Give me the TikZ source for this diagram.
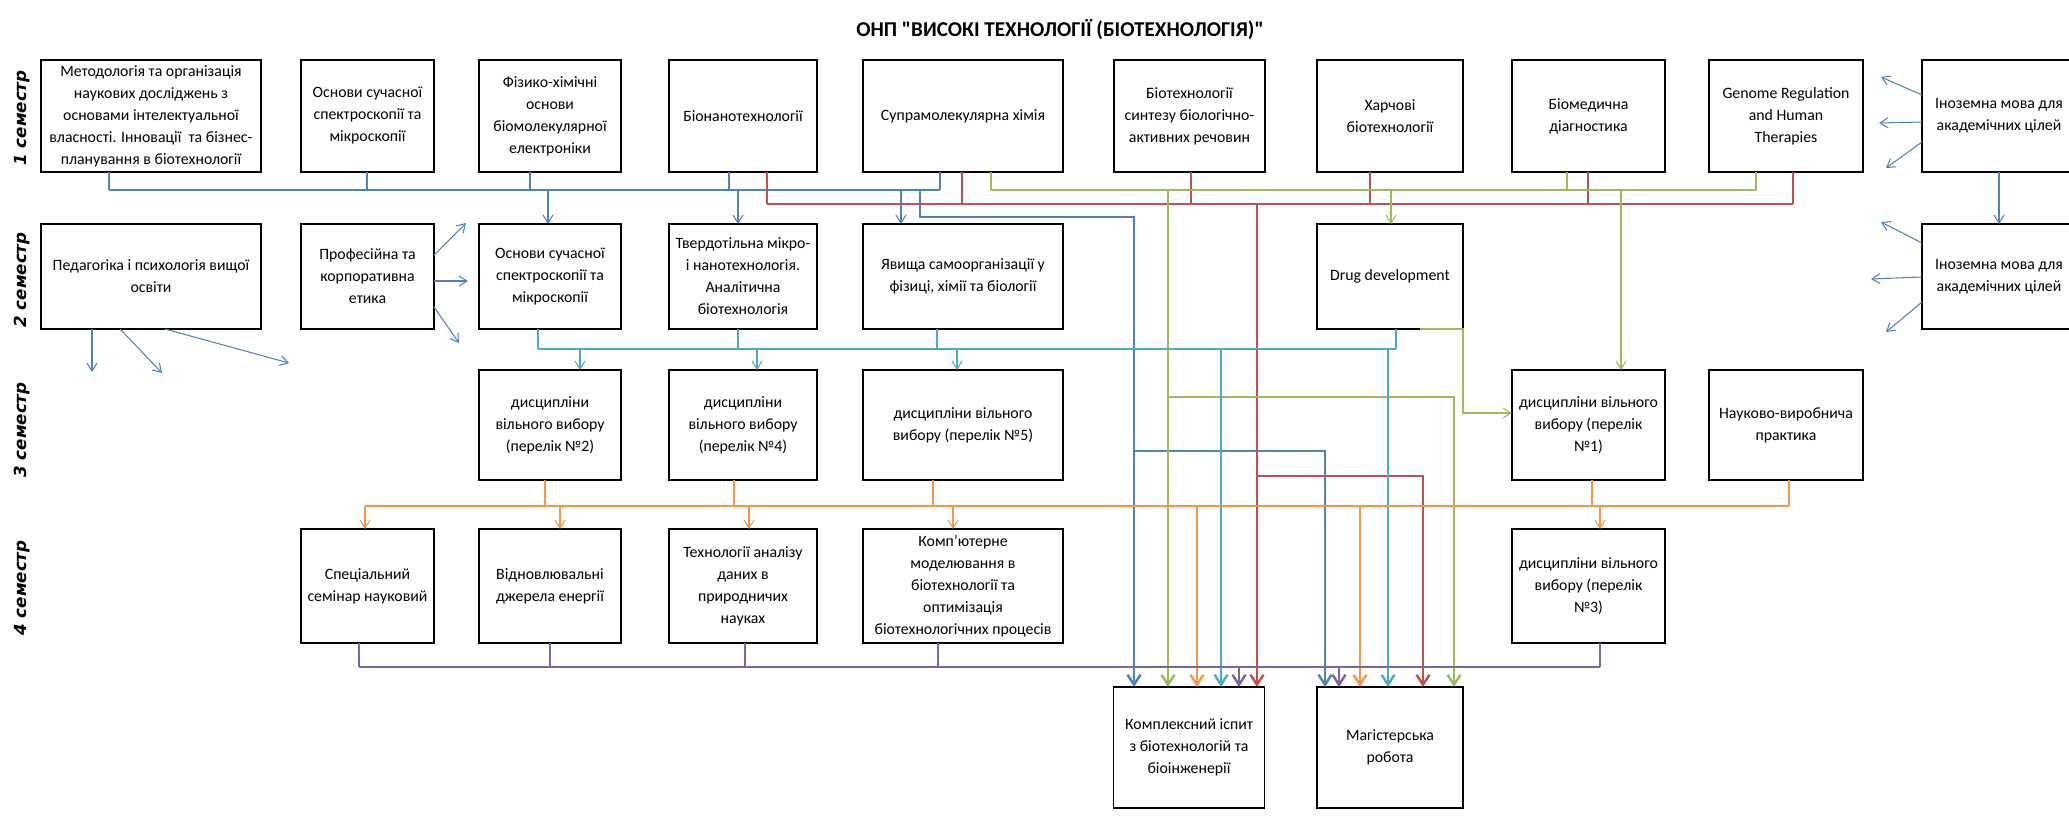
\documentclass[tikz,border=0pt]{standalone}
\usepackage{fontspec}
\setmainfont{Carlito}
\newfontfamily\titlefont{Carlito}
\newfontfamily\semfont{DejaVu Sans}
\usetikzlibrary{arrows.meta}
\definecolor{cblue}{HTML}{4F81BD}
\definecolor{cred}{HTML}{C0504D}
\definecolor{cgreen}{HTML}{9BBB59}
\definecolor{cteal}{HTML}{4BACC6}
\definecolor{corange}{HTML}{F79646}
\definecolor{cpurple}{HTML}{8064A2}
\tikzset{
  box/.style={draw, line width=1.1pt, inner sep=0, outer sep=0, align=center,
    font=\fontsize{9}{12.5}\selectfont},
  col1/.style={minimum width=44mm},
  col2/.style={minimum width=26.6mm},
  col3/.style={minimum width=28.4mm},
  col4/.style={minimum width=29.6mm},
  col5/.style={minimum width=40mm},
  col6/.style={minimum width=30.2mm},
  col7/.style={minimum width=29.2mm},
  col8/.style={minimum width=30.6mm},
  col9/.style={minimum width=30.8mm},
  row1/.style={minimum height=22.4mm},
  row2/.style={minimum height=21mm},
  row3/.style={minimum height=22mm},
  row4/.style={minimum height=22.8mm},
  row5/.style={minimum height=24.2mm},
  sem/.style={rotate=90, font=\semfont\bfseries\itshape\fontsize{9.5}{11}\selectfont},
  stub/.style={line width=0.6pt},
  link/.style={line width=0.6pt, -{Straight Barb[length=1.6mm,width=2mm]}},
  bus/.style={line width=1.4pt},
  feed/.style={line width=1.4pt, -{Straight Barb[length=2mm,width=2.6mm]}}
}
\begin{document}
\begin{tikzpicture}[x=0.2mm, y=-0.2mm]
\path[use as bounding box, clip] (0,0) rectangle (2069,816);

\node[font=\titlefont\fontsize{12}{14}\selectfont\bfseries] (t) at (1060,30) {ОНП "ВИСОКІ ТЕХНОЛОГІЇ (БІОТЕХНОЛОГІЯ)"};
\node[sem] (s1) at (22,118) {1 семестр};
\node[sem] (s2) at (22,280) {2 семестр};
\node[sem] (s3) at (22,430) {3 семестр};
\node[sem] (s4) at (22,588) {4 семестр};

% 1 семестр
\node[box,col1,row1] (a1) at (151,116) {Методологія та організація\\наукових досліджень з\\основами інтелектуальної\\власності. Інновації\ \ та бізнес-\\планування в біотехнології};
\node[box,col2,row1] (a2) at (367.5,116) {Основи сучасної\\спектроскопії та\\мікроскопії};
\node[box,col3,row1] (a3) at (550,116) {Фізико-хімічні\\основи\\біомолекулярної\\електроніки};
\node[box,col4,row1] (a4) at (743,116) {Біонанотехнології};
\node[box,col5,row1] (a5) at (963,116) {Супрамолекулярна хімія};
\node[box,col6,row1] (a6) at (1189.5,116) {Біотехнології\\синтезу біологічно-\\активних речовин};
\node[box,col7,row1] (a7) at (1390,116) {Харчові\\біотехнології};
\node[box,col8,row1] (a8) at (1588.5,116) {Біомедична\\діагностика};
\node[box,col9,row1] (a9) at (1786,116) {Genome Regulation\\and Human\\Therapies};
\node[box,col9,row1] (a10) at (1999,116) {Іноземна мова для\\академічних цілей};

% 2 семестр
\node[box,col1,row2] (b1) at (151,276.5) {Педагогіка і психологія вищої\\освіти};
\node[box,col2,row2] (b2) at (367.5,276.5) {Професійна та\\корпоративна\\етика};
\node[box,col3,row2] (b3) at (550,276.5) {Основи сучасної\\спектроскопії та\\мікроскопії};
\node[box,col4,row2] (b4) at (743,276.5) {Твердотільна мікро-\\і нанотехнологія.\\Аналітична\\біотехнологія};
\node[box,col5,row2] (b5) at (963,276.5) {Явища самоорганізації у\\фізиці, хімії та біології};
\node[box,col7,row2] (b6) at (1390,276.5) {Drug development};
\node[box,col9,row2] (b7) at (1999,276.5) {Іноземна мова для\\академічних цілей};

% 3 семестр
\node[box,col3,row3] (c1) at (550,425) {дисципліни\\вільного вибору\\(перелік №2)};
\node[box,col4,row3] (c2) at (743,425) {дисципліни\\вільного вибору\\(перелік №4)};
\node[box,col5,row3] (c3) at (963,425) {дисципліни вільного\\вибору (перелік №5)};
\node[box,col8,row3] (c4) at (1588.5,425) {дисципліни вільного\\вибору (перелік\\№1)};
\node[box,col9,row3] (c5) at (1786,425) {Науково-виробнича\\практика};

% 4 семестр
\node[box,col2,row4] (d1) at (367.5,586) {Спеціальний\\семінар науковий};
\node[box,col3,row4] (d2) at (550,586) {Відновлювальні\\джерела енергії};
\node[box,col4,row4] (d3) at (743,586) {Технології аналізу\\даних в\\природничих\\науках};
\node[box,col5,row4] (d4) at (963,586) {Комп’ютерне\\моделювання в\\біотехнології та\\оптимізація\\біотехнологічних процесів};
\node[box,col8,row4] (d5) at (1588.5,586) {дисципліни вільного\\вибору (перелік\\№3)};

\node[box,col6,row5] (e1) at (1189,747.5) {Комплексний іспит\\з біотехнологій та\\біоінженерії};
\node[box,col7,row5] (e2) at (1390,747.5) {Магістерська\\робота};

% blue
\draw[bus,cblue] (109,190) -- (940,190);
\foreach \n/\x in {a1/109,a2/367,a3/530,a4/729,a5/940}
  \draw[stub,cblue] (\n.south -| \x,0) -- (\x,190);
\foreach \n/\x in {b3/548,b4/738,b5/901}
  \draw[link,cblue] (\x,190) -- (\n.north -| \x,0);
\draw[feed,cblue] (920,190) |- (1134,217) -- (e1.north -| 1134,0);
\draw[feed,cblue] (1134,451) -| (e2.north -| 1325,0);

% red
\draw[bus,cred] (767,204) -- (1793,204);
\foreach \n/\x in {a4/767,a5/962,a6/1191,a7/1370,a8/1588,a9/1793}
  \draw[stub,cred] (\n.south -| \x,0) -- (\x,204);
\draw[feed,cred] (1257,204) -- (e1.north -| 1257,0);
\draw[feed,cred] (1257,476) -| (e2.north -| 1423,0);

% green
\draw[bus,cgreen] (991,190) -- (1756,190);
\foreach \n/\x in {a5/991,a8/1567,a9/1756}
  \draw[stub,cgreen] (\n.south -| \x,0) -- (\x,190);
\draw[link,cgreen] (1391,190) -- (b6.north -| 1391,0);
\draw[link,cgreen] (1621,190) -- (c4.north -| 1621,0);
\draw[link,cgreen] (b6.south -| 1420,0) -- (b6.south east) |- (c4.west |- 0,413);
\draw[feed,cgreen] (1168,190) -- (e1.north -| 1168,0);
\draw[feed,cgreen] (1168,397) -| (e2.north -| 1454,0);

% teal
\draw[bus,cteal] (538,349) -- (1396,349);
\foreach \n/\x in {b3/538,b4/738,b5/937,b6/1396}
  \draw[stub,cteal] (\n.south -| \x,0) -- (\x,349);
\foreach \n/\x in {c1/580,c2/757,c3/957}
  \draw[link,cteal] (\x,349) -- (\n.north -| \x,0);
\draw[feed,cteal] (1221,349) -- (e1.north -| 1221,0);
\draw[feed,cteal] (1388,349) -- (e2.north -| 1388,0);

% orange
\draw[bus,corange] (365,506) -- (1789,506);
\foreach \n/\x in {c1/545,c2/734,c3/933,c4/1592,c5/1789}
  \draw[stub,corange] (\n.south -| \x,0) -- (\x,506);
\foreach \n/\x in {d1/365,d2/560,d3/749,d4/953,d5/1600}
  \draw[link,corange] (\x,506) -- (\n.north -| \x,0);
\draw[feed,corange] (1197,506) -- (e1.north -| 1197,0);
\draw[feed,corange] (1360,506) -- (e2.north -| 1360,0);

% purple
\draw[bus,cpurple,line width=1.1pt] (359,667) -- (1600,667);
\foreach \n/\x in {d1/359,d2/550,d3/745,d4/938,d5/1600}
  \draw[stub,cpurple] (\n.south -| \x,0) -- (\x,667);
\draw[feed,cpurple] (1239,667) -- (e1.north -| 1239,0);
\draw[feed,cpurple] (1339,667) -- (e2.north -| 1339,0);

% loose blue arrows
\draw[link,cblue] (a10.south) -- (b7.north);
\foreach \yy/\ex/\ey in {95/1881/77,122/1879/123,142/1886/168}
  \draw[link,cblue] (a10.west |- 0,\yy) -- (\ex,\ey);
\foreach \yy/\ex/\ey in {243/1881/222,277/1871/279,302/1886/332}
  \draw[link,cblue] (b7.west |- 0,\yy) -- (\ex,\ey);
\foreach \xx/\ex/\ey in {92/92/372,120/162/373,165/289/363}
  \draw[link,cblue] (b1.south -| \xx,0) -- (\ex,\ey);
\foreach \yy/\ex/\ey in {255/466/223,281/468/281,307/459/343}
  \draw[link,cblue] (b2.east |- 0,\yy) -- (\ex,\ey);
\end{tikzpicture}
\end{document}
